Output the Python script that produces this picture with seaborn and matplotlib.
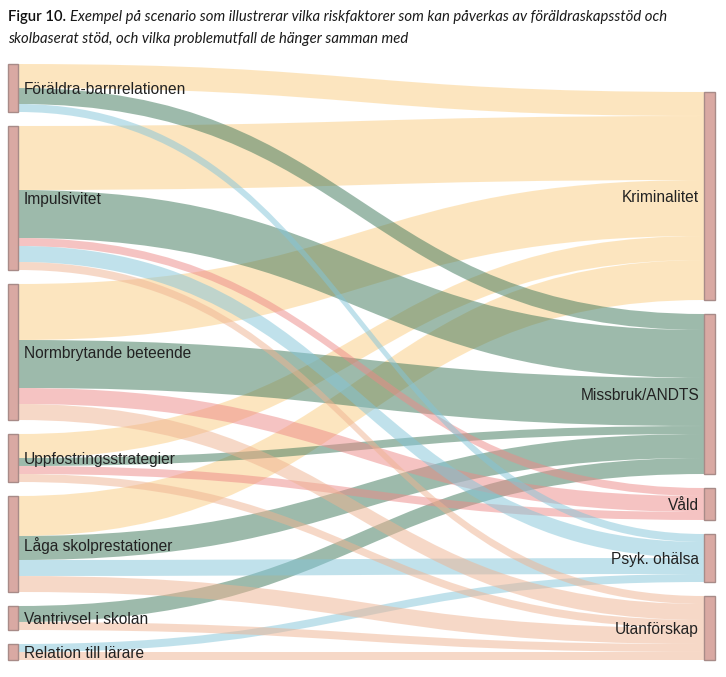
import numpy as np
import pandas as pd
import seaborn as sns
import matplotlib.pyplot as plt
from matplotlib.path import Path
from matplotlib.patches import PathPatch, Rectangle

# ==============================================================================
# DATA (flow units)
# ==============================================================================
sources = ["Föräldra-barnrelationen", "Impulsivitet", "Normbrytande beteende",
           "Uppfostringsstrategier", "Låga skolprestationer", "Vantrivsel i skolan",
           "Relation till lärare"]
targets = ["Kriminalitet", "Missbruk/ANDTS", "Våld", "Psyk. ohälsa", "Utanförskap"]

# rows = sources, columns = targets
flows = [
    [3, 2, 0, 1, 0],   # Föräldra-barnrelationen
    [8, 6, 1, 2, 1],   # Impulsivitet
    [7, 6, 2, 0, 2],   # Normbrytande beteende
    [3, 1, 1, 0, 1],   # Uppfostringsstrategier
    [5, 3, 0, 2, 2],   # Låga skolprestationer
    [0, 2, 0, 0, 1],   # Vantrivsel i skolan
    [0, 0, 0, 1, 1],   # Relation till lärare
]

title_bold = "Figur 10."
title_line1 = "Exempel på scenario som illustrerar vilka riskfaktorer som kan påverkas av föräldraskapsstöd och"
title_line2 = "skolbaserat stöd, och vilka problemutfall de hänger samman med"

# ==============================================================================
# STYLE / LAYOUT
# ==============================================================================
link_colors = sns.color_palette(["#fbcd81", "#3d7759", "#ed8987", "#83c5d9", "#efb391"])
link_alpha = 0.5
node_fill = "#d9a9a3"
node_edge = "#a88b88"

W, H = 726, 677
scale = 8.0        # px per unit
pad = 14.0         # px between nodes
top_left = 64.0
x_left = (7.5, 18.0)
x_right = (704.0, 714.5)

df = pd.DataFrame(flows, index=sources, columns=targets)
src_tot = df.sum(axis=1)
tgt_tot = df.sum(axis=0)

# node positions from the totals
src_y0 = {}
y = top_left
for s in sources:
    src_y0[s] = y
    y += src_tot[s] * scale + pad
bottom = y - pad
tgt_y0 = {}
y = bottom - (tgt_tot.sum() * scale + pad * (len(targets) - 1))
for t in targets:
    tgt_y0[t] = y
    y += tgt_tot[t] * scale + pad

# link end positions
src_off = {s: src_y0[s] for s in sources}
tgt_off = {t: tgt_y0[t] for t in targets}
links = []
for s in sources:
    for j, t in enumerate(targets):
        v = df.loc[s, t]
        if v > 0:
            links.append((s, t, j, src_off[s], v * scale))
            src_off[s] += v * scale
for t in targets:
    for s in sources:
        v = df.loc[s, t]
        if v > 0:
            for i, l in enumerate(links):
                if l[0] == s and l[1] == t:
                    links[i] = l + (tgt_off[t],)
            tgt_off[t] += v * scale

sns.set_theme(style="white")
fig = plt.figure(figsize=(W / 100, H / 100), dpi=100)
ax = fig.add_axes([0, 0, 1, 1])
ax.set_xlim(0, W)
ax.set_ylim(H, 0)
ax.axis("off")

x0, x1 = x_left[1], x_right[0]
xm = (x0 + x1) / 2
# draw by target so later outcomes sit on top
for j, t in enumerate(targets):
    for s, tt, jj, ys, h, yt in links:
        if tt != t:
            continue
        verts = [(x0, ys), (xm, ys), (xm, yt), (x1, yt),
                 (x1, yt + h),
                 (xm, yt + h), (xm, ys + h), (x0, ys + h),
                 (x0, ys)]
        codes = [Path.MOVETO, Path.CURVE4, Path.CURVE4, Path.CURVE4,
                 Path.LINETO,
                 Path.CURVE4, Path.CURVE4, Path.CURVE4,
                 Path.CLOSEPOLY]
        ax.add_patch(PathPatch(Path(verts, codes), facecolor=link_colors[jj],
                               alpha=link_alpha, lw=0))

label_font = ["Liberation Sans", "DejaVu Sans"]
for s in sources:
    h = src_tot[s] * scale
    ax.add_patch(Rectangle((x_left[0], src_y0[s]), x_left[1] - x_left[0], h,
                           facecolor=node_fill, edgecolor=node_edge, lw=1))
    ax.text(x_left[1] + 6, src_y0[s] + h / 2 + 1.5, s, ha="left", va="center",
            fontsize=11.2, family=label_font, color="#222222")
for t in targets:
    h = tgt_tot[t] * scale
    ax.add_patch(Rectangle((x_right[0], tgt_y0[t]), x_right[1] - x_right[0], h,
                           facecolor=node_fill, edgecolor=node_edge, lw=1))
    ax.text(x_right[0] - 5, tgt_y0[t] + h / 2 + 1.5, t, ha="right", va="center",
            fontsize=11.2, family=label_font, color="#222222")

# title: semibold prefix + italic rest
tfont = ["Lato", "DejaVu Sans"]
tsize = 10.7
t1 = ax.text(8, 17.5, title_bold, ha="left", va="center", fontsize=tsize,
             family=tfont, weight="semibold", color="#111111")
fig.canvas.draw()
bb = t1.get_window_extent().transformed(ax.transData.inverted())
ax.text(bb.x1 + 4, 17.5, title_line1, ha="left", va="center", fontsize=tsize,
        family=tfont, style="italic", color="#1a1a1a")
ax.text(8, 38.5, title_line2, ha="left", va="center", fontsize=tsize,
        family=tfont, style="italic", color="#1a1a1a")

plt.savefig("out.png", dpi=100)
